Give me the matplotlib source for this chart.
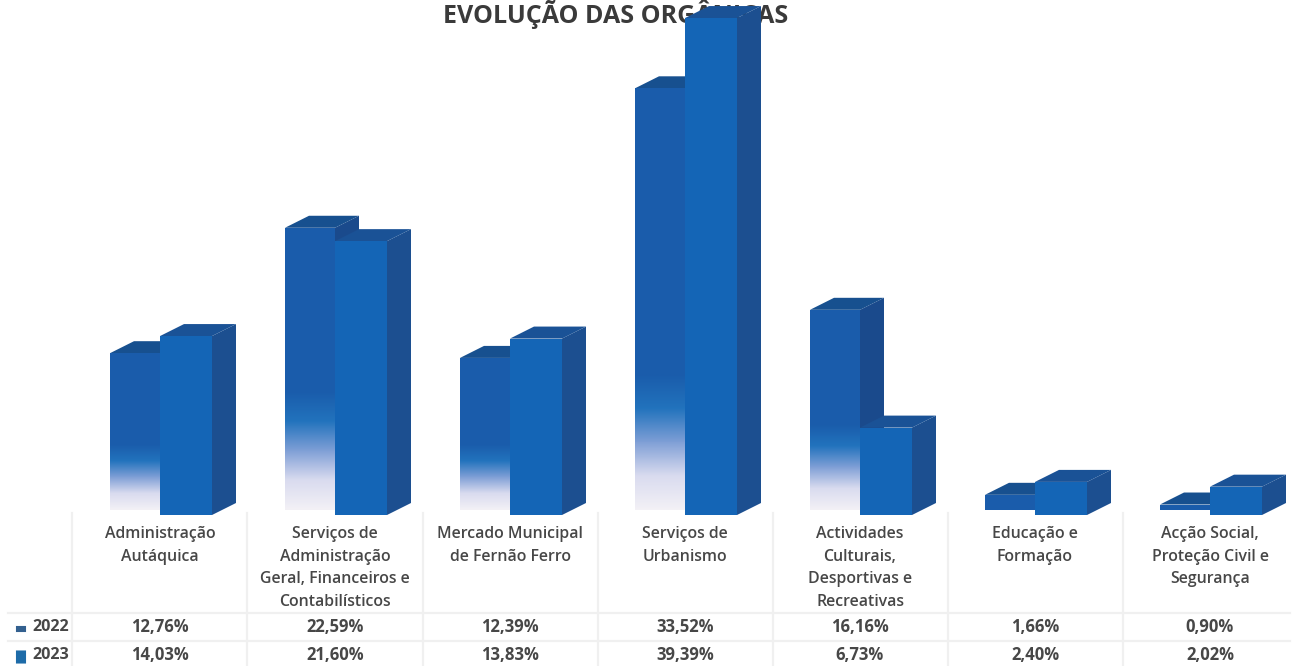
import numpy as np
import matplotlib
matplotlib.use("Agg")
import matplotlib.pyplot as plt
from matplotlib.colors import LinearSegmentedColormap
from matplotlib.patches import FancyBboxPatch, Polygon

# Data
categories = [
    "Administração\nAutáquica",
    "Serviços de\nAdministração\nGeral, Financeiros e\nContabilísticos",
    "Mercado Municipal\nde Fernão Ferro",
    "Serviços de\nUrbanismo",
    "Actividades\nCulturais,\nDesportivas e\nRecreativas",
    "Educação e\nFormação",
    "Acção Social,\nProteção Civil e\nSegurança",
]
values_2022 = [12.76, 22.59, 12.39, 33.52, 16.16, 1.66, 0.90]
values_2023 = [14.03, 21.60, 13.83, 39.39, 6.73, 2.40, 2.02]
labels_2022 = ["12,76%", "22,59%", "12,39%", "33,52%", "16,16%", "1,66%", "0,90%"]
labels_2023 = ["14,03%", "21,60%", "13,83%", "39,39%", "6,73%", "2,40%", "2,02%"]
# height (in %) where the fade of the back series ends
fade_2022 = [5.4, 9.6, 5.4, 11.0, 7.0, 0, 0]

W, H = 1294, 666
PX_X = 175.0    # pixels per category
PX_Y = 12.54    # pixels per percentage point
X0 = 160.0
Y0 = 512.0

BAR_2022 = 50 / PX_X
BAR_2023 = 52 / PX_X
DX = 24 / PX_X
DY = 12 / PX_Y
FRONT_FOOT = -3 / PX_Y
BACK_ZERO = -4 / PX_Y
BACK_FOOT = 2 / PX_Y
BACK_SCALE = 1.0175

TEXT = "#474747"
FONT = "Open Sans"

fig = plt.figure(figsize=(W / 100, H / 100), dpi=100)
ax = fig.add_axes([0, 0, 1, 1])
ax.axis("off")
xlim = (-X0 / PX_X, (W - X0) / PX_X)
ylim = (-(H - Y0) / PX_Y, Y0 / PX_Y)


def px_x(px):
    return (px - X0) / PX_X


def px_y(px):
    return (Y0 - px) / PX_Y


def draw_box(left, width, base, top, front, side, roof, z):
    ax.add_patch(Polygon([(left + width, base), (left + width + DX, base + DY),
                          (left + width + DX, top + DY), (left + width, top)],
                         closed=True, fc=side, ec="none", zorder=z))
    ax.add_patch(Polygon([(left, top), (left + DX, top + DY),
                          (left + width + DX, top + DY), (left + width, top)],
                         closed=True, fc=roof, ec="none", zorder=z))
    ax.fill_between([left, left + width], base, top, color=front, lw=0, zorder=z + 0.1)


fade_cmap = LinearSegmentedColormap.from_list(
    "fade", ["#f3f1f6", "#d9dbef", "#7f9fd6", "#2273bd", "#1a5cab"])

ax.text(px_x(616), px_y(14), "EVOLUÇÃO DAS ORGÂNICAS", ha="center", va="center",
        fontsize=18, fontweight="bold", color="#3a3a3a", family=FONT, zorder=1)

# table grid
for i in range(len(categories) + 1):
    ax.plot([i - 0.5, i - 0.5], [px_y(513), px_y(H)], color="#f0f0f0", lw=1.6, zorder=1)
for y in [613, 641]:
    ax.plot([px_x(8), px_x(1290)], [px_y(y), px_y(y)], color="#f0f0f0", lw=1.6, zorder=1)

# back series
for i, v in enumerate(values_2022):
    left = i - BAR_2022
    top = BACK_ZERO + v * BACK_SCALE
    draw_box(left, BAR_2022, BACK_FOOT, top, "#1a5cab", "#1a4a8c", "#17508f", 3)
    if fade_2022[i] > 0:
        grad = np.linspace(0, 1, 128).reshape(-1, 1)
        ax.imshow(grad, cmap=fade_cmap, origin="lower", aspect="auto",
                  extent=(left, left + BAR_2022, BACK_FOOT, fade_2022[i]), zorder=3.5)

# front series
for i, v in enumerate(values_2023):
    draw_box(i, BAR_2023, FRONT_FOOT, v, "#1465b6", "#1c4f90", "#1a5296", 5)

ax.set_xlim(*xlim)
ax.set_ylim(*ylim)

# category labels
for i, name in enumerate(categories):
    ax.text(i, px_y(526), name, ha="center", va="top", fontsize=11.4, fontweight="semibold",
            color=TEXT, family=FONT, linespacing=1.56, zorder=6)

# table values
for i in range(len(categories)):
    ax.text(i, px_y(627), labels_2022[i], ha="center", va="center", fontsize=12,
            fontweight="bold", color=TEXT, family=FONT, zorder=6)
    ax.text(i, px_y(655), labels_2023[i], ha="center", va="center", fontsize=12,
            fontweight="bold", color=TEXT, family=FONT, zorder=6)

# legend keys in the first column
for year, y, h, col in [("2022", 627, 4, "#33608f"), ("2023", 655, 11, "#1d6ba8")]:
    ax.add_patch(FancyBboxPatch((px_x(17), px_y(y + 2 + h / 2)), 8 / PX_X, h / PX_Y,
                                boxstyle="round,pad=0", fc=col, ec=col, lw=1.5, zorder=6))
    ax.text(px_x(32), px_y(y), year, ha="left", va="center", fontsize=11.6,
            fontweight="bold", color=TEXT, family=FONT, zorder=6)

fig.savefig("out.png", dpi=100, facecolor="white")
